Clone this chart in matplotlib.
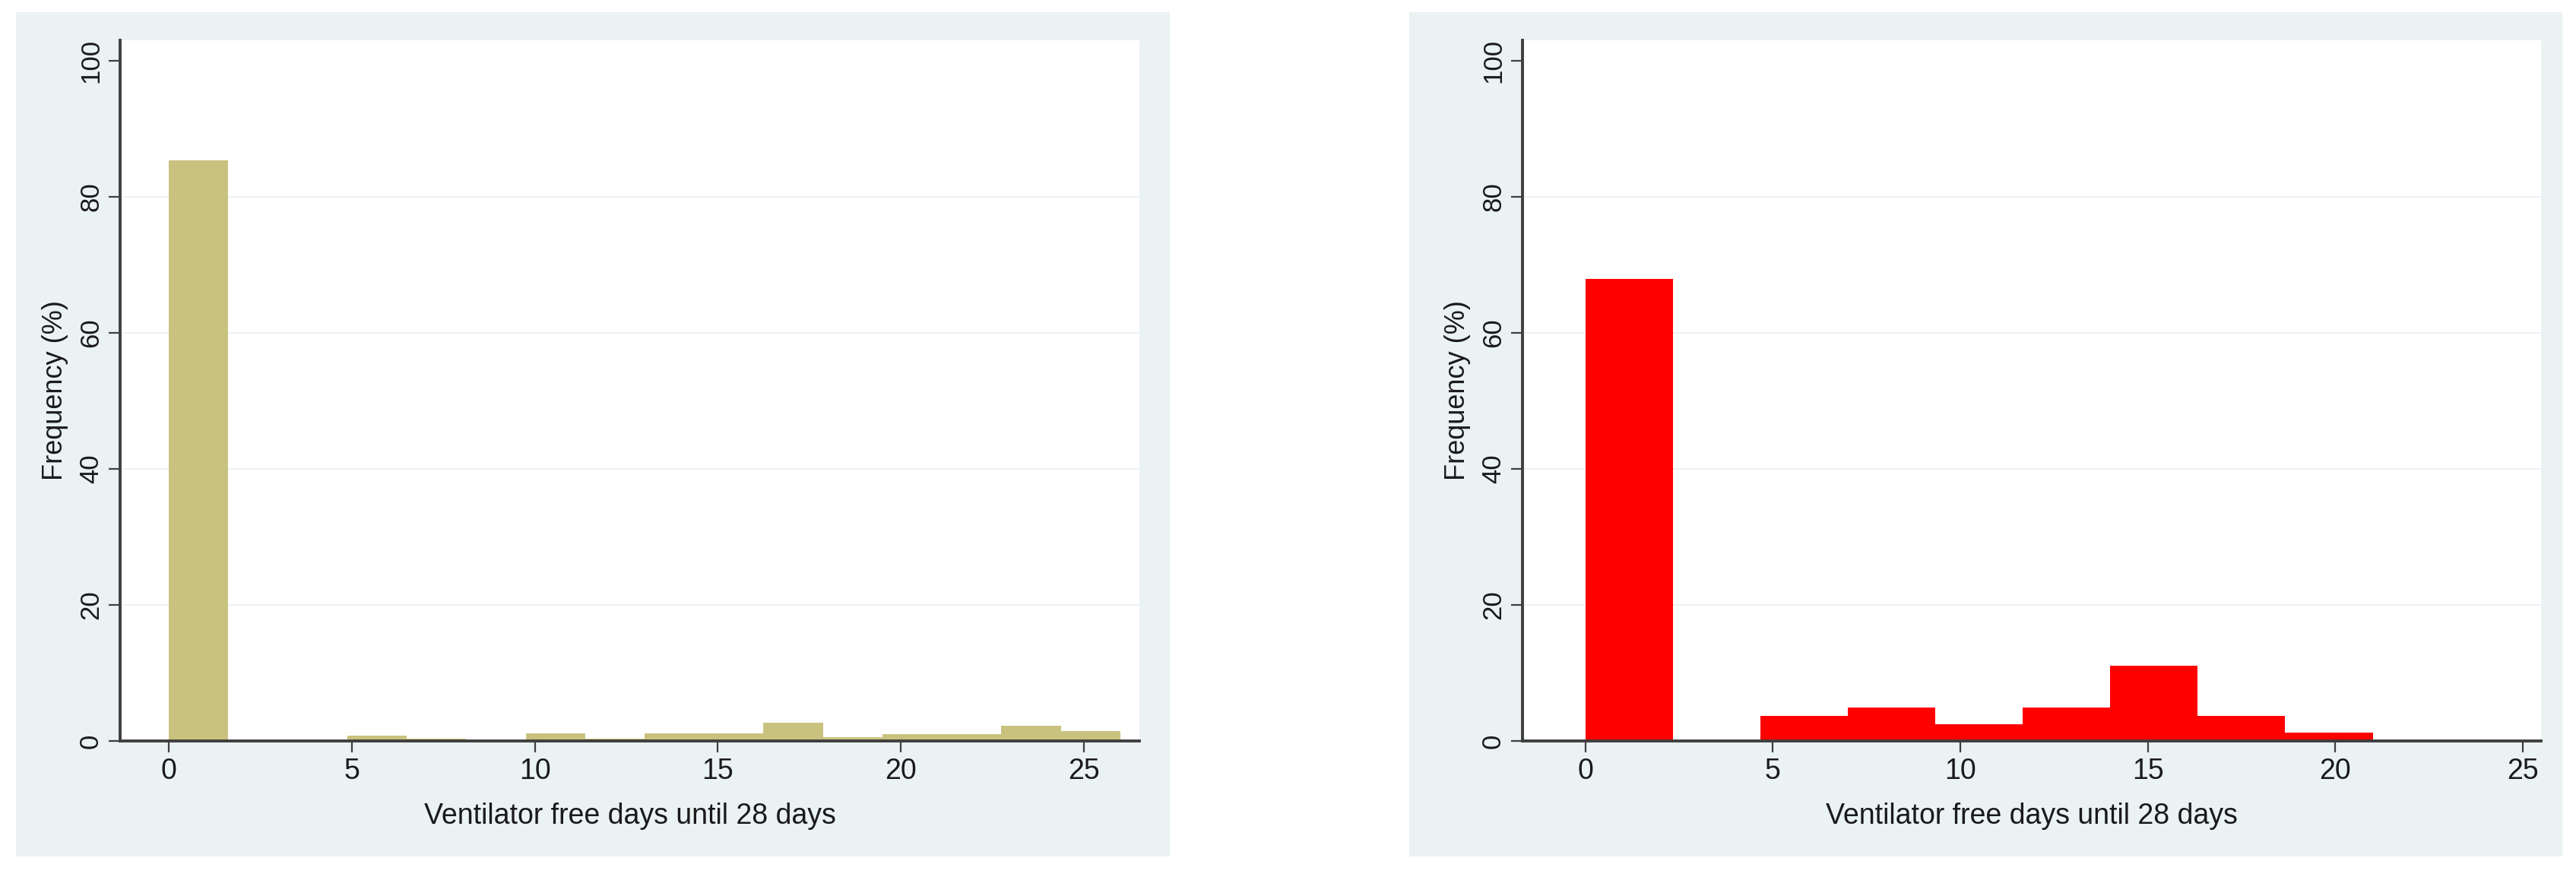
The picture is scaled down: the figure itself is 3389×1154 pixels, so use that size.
import matplotlib
matplotlib.use("Agg")
import matplotlib.pyplot as plt
from matplotlib.patches import Rectangle

# histogram data (percent per bin)
left_start = 0.0
left_width = 26 / 16
left_pct = [85.4, 0.0, 0.0, 0.8, 0.3, 0.0, 1.1, 0.3,
            1.1, 1.1, 2.7, 0.6, 1.0, 1.0, 2.2, 1.5]

right_start = 0.0
right_width = 21 / 9
right_pct = [67.9, 0.0, 3.7, 4.9, 2.5, 4.9, 11.1, 3.7, 1.2]

x_ticks = [0, 5, 10, 15, 20, 25]
y_ticks = [0, 20, 40, 60, 80, 100]
y_grid = [20, 40, 60, 80]
x_title = "Ventilator free days until 28 days"
y_title = "Frequency (%)"

W, H = 3389, 1154
PANEL = "#eaf2f3"
AXIS = "#3f3f3f"
TXT = "#1a1a1a"
font = ["Liberation Sans", "DejaVu Sans"]

fig = plt.figure(figsize=(W / 100, H / 100), dpi=100)
fig.patch.set_facecolor("white")


def px_box(x0, y0, x1, y1):
    # pixel box (top-left origin) -> figure fraction [l, b, w, h]
    return [x0 / W, 1 - y1 / H, (x1 - x0) / W, (y1 - y0) / H]


def draw_panel(panel_px, axes_px, xlim, starts, width, pct, color):
    l, b, w, h = px_box(*panel_px)
    fig.patches.append(Rectangle((l, b), w, h, transform=fig.transFigure,
                                 facecolor=PANEL, edgecolor="none", zorder=-10))
    ax = fig.add_axes(px_box(*axes_px))
    ax.set_facecolor("white")
    lefts = [starts + i * width for i in range(len(pct))]
    ax.bar(lefts, pct, width=width, align="edge", color=color,
           edgecolor="none", linewidth=0, zorder=3)
    for g in y_grid:
        ax.axhline(g, color=PANEL, linewidth=1.3, zorder=1)
    ax.set_xlim(*xlim)
    ax.set_ylim(0, 103)
    for s in ("top", "right"):
        ax.spines[s].set_visible(False)
    for s in ("left", "bottom"):
        ax.spines[s].set_color(AXIS)
        ax.spines[s].set_linewidth(2.8)
        ax.spines[s].set_zorder(5)
    ax.set_xticks(x_ticks)
    ax.set_yticks(y_ticks)
    ax.tick_params(axis="both", length=10.8, width=1.6, color=AXIS)
    ax.tick_params(axis="x", pad=5)
    ax.tick_params(axis="y", pad=5)
    for t in ax.get_xticklabels():
        t.set_family(font)
        t.set_fontsize(27)
        t.set_color(TXT)
    for t in ax.get_yticklabels():
        t.set_family(font)
        t.set_fontsize(25)
        t.set_rotation(90)
        t.set_va("center")
        t.set_color(TXT)
    ax.set_xlabel(x_title, family=font, fontsize=27, color=TXT)
    ax.xaxis.set_label_coords(0.5, -0.088)
    ax.xaxis.label.set_va("top")
    ax.set_ylabel(y_title, family=font, fontsize=26, color=TXT)
    ax.yaxis.set_label_coords(-0.0507, 0.5)
    return ax


draw_panel((21, 16, 1539, 1127), (158, 53, 1499, 975), (-1.33, 26.52),
           left_start, left_width, left_pct, "#c9c27f")
draw_panel((1854, 16, 3371, 1127), (2003, 53, 3343, 975), (-1.68, 25.49),
           right_start, right_width, right_pct, "#ff0000")

fig.savefig("out.png", dpi=100, facecolor="white")
